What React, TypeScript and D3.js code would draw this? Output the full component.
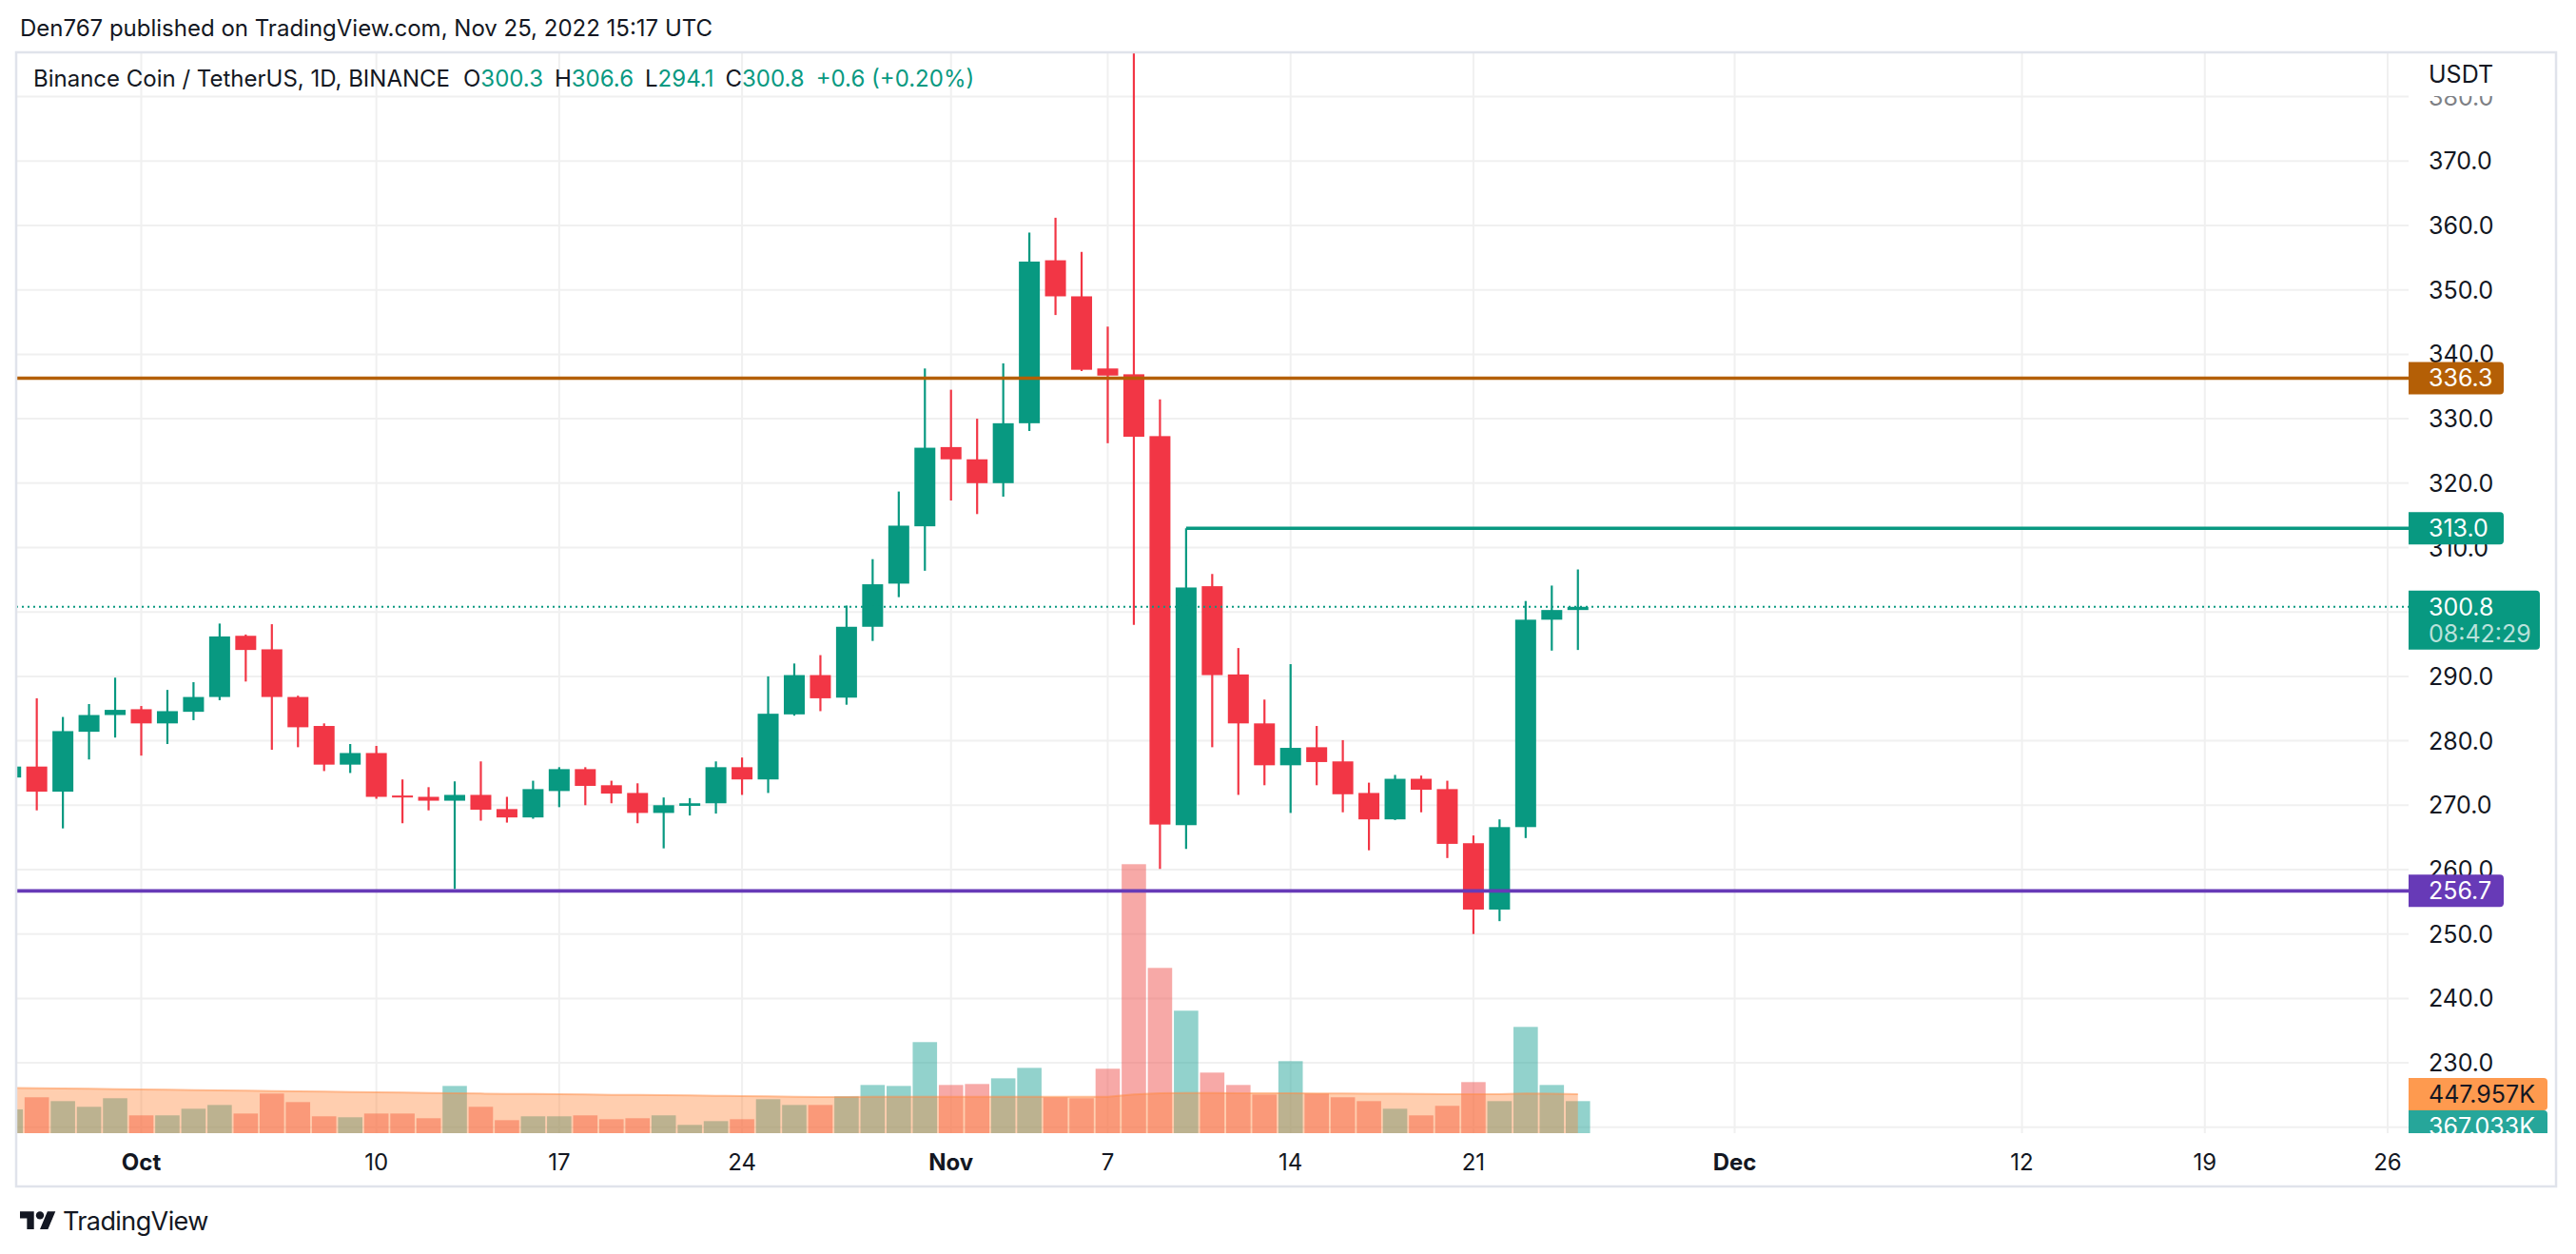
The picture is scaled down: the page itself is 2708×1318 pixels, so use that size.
import React, { useEffect } from 'react';
import * as d3 from 'd3';

// BNB/USDT daily candles, Sep 26 - Nov 25 2022
const dates = [
  '2022-09-26', '2022-09-27', '2022-09-28', '2022-09-29', '2022-09-30',
  '2022-10-01', '2022-10-02', '2022-10-03', '2022-10-04', '2022-10-05', '2022-10-06', '2022-10-07',
  '2022-10-08', '2022-10-09', '2022-10-10', '2022-10-11', '2022-10-12', '2022-10-13', '2022-10-14',
  '2022-10-15', '2022-10-16', '2022-10-17', '2022-10-18', '2022-10-19', '2022-10-20', '2022-10-21',
  '2022-10-22', '2022-10-23', '2022-10-24', '2022-10-25', '2022-10-26', '2022-10-27', '2022-10-28',
  '2022-10-29', '2022-10-30', '2022-10-31',
  '2022-11-01', '2022-11-02', '2022-11-03', '2022-11-04', '2022-11-05', '2022-11-06', '2022-11-07',
  '2022-11-08', '2022-11-09', '2022-11-10', '2022-11-11', '2022-11-12', '2022-11-13', '2022-11-14',
  '2022-11-15', '2022-11-16', '2022-11-17', '2022-11-18', '2022-11-19', '2022-11-20', '2022-11-21',
  '2022-11-22', '2022-11-23', '2022-11-24', '2022-11-25',
];

const opens = [
  274.3, 276.0, 272.1, 281.4, 284.0,
  284.9, 282.7, 284.5, 286.8, 296.3, 294.2, 286.8, 282.3, 276.3, 278.1, 271.5, 271.3, 270.7, 271.6,
  269.4, 268.1, 272.2, 275.6, 273.1, 271.9, 268.8, 269.9, 270.3, 275.9, 274.0, 284.1, 290.2, 286.7,
  297.7, 304.4, 313.3,
  325.6, 323.7, 320.0, 329.3, 354.6, 349.0, 337.8, 336.9, 327.3, 266.9, 304.0, 290.3, 282.7, 276.2,
  279.0, 276.8, 271.9, 267.8, 274.1, 272.5, 264.1, 253.8, 266.6, 298.8, 300.3,
];

const highs = [
  277.5, 286.6, 283.7, 285.7, 289.8,
  285.4, 287.9, 289.1, 298.2, 296.5, 298.1, 287.0, 282.7, 279.5, 279.2, 274.0, 272.8, 273.7, 276.8,
  271.3, 273.8, 275.9, 275.9, 273.8, 273.4, 271.2, 271.1, 276.8, 277.4, 290.0, 292.0, 293.3, 301.0,
  308.2, 318.7, 337.8,
  334.5, 330.0, 338.6, 358.9, 361.2, 355.9, 344.3, 398.0, 333.0, 313.0, 305.9, 294.4, 286.4, 291.9,
  282.3, 280.1, 273.5, 274.7, 274.6, 273.8, 265.3, 267.8, 301.7, 304.1, 306.6,
];

const lows = [
  271.5, 269.2, 266.4, 277.1, 280.5,
  277.7, 279.5, 283.2, 286.3, 289.2, 278.6, 279.0, 275.3, 275.0, 271.0, 267.2, 269.2, 257.0, 267.6,
  267.3, 267.9, 269.7, 270.0, 270.3, 267.2, 263.3, 268.4, 268.7, 271.6, 271.9, 283.9, 284.6, 285.6,
  295.5, 302.3, 306.4,
  317.3, 315.2, 317.9, 328.1, 346.1, 337.4, 326.2, 298.0, 260.1, 263.2, 279.0, 271.6, 273.1, 268.8,
  273.1, 268.9, 263.0, 267.7, 268.9, 261.8, 250.0, 252.0, 264.9, 294.0, 294.1,
];

const closes = [
  276.0, 272.1, 281.5, 284.0, 284.8,
  282.7, 284.6, 286.8, 296.2, 294.1, 286.8, 282.1, 276.3, 278.1, 271.3, 271.2, 270.7, 271.6, 269.3,
  268.1, 272.5, 275.6, 273.0, 271.8, 268.8, 270.0, 270.3, 275.9, 274.0, 284.2, 290.2, 286.6, 297.7,
  304.3, 313.4, 325.5,
  323.7, 320.0, 329.3, 354.4, 349.0, 337.6, 336.7, 327.2, 267.0, 303.8, 290.2, 282.7, 276.2, 278.9,
  276.7, 271.7, 267.8, 274.1, 272.4, 264.0, 253.8, 266.6, 298.8, 300.3, 300.8,
];

// volume in thousands of BNB
const volumes = [
  272, 411, 367, 302, 400,
  204, 204, 280, 323, 225, 454, 356, 193, 182, 225, 225, 171, 541, 302,
  149, 193, 193, 204, 160, 171, 204, 95, 138, 160, 389, 323, 323, 421,
  552, 541, 1043,
  552, 563, 628, 748, 411, 400, 738, 3081, 1893, 1403, 694, 552, 443, 825,
  454, 411, 367, 280, 204, 313, 585, 367, 1217, 552, 367.033,
];

const volumeMA = [
  520, 515, 512, 509, 505,
  501, 498, 494, 491, 487, 483, 480, 476, 472, 469, 465, 461, 458, 454,
  450, 450, 447, 443, 440, 440, 436, 432, 429, 425, 421, 418, 414, 414,
  416, 416, 418,
  418, 418, 418, 417, 417, 416, 416, 443, 457, 461, 460, 459, 458, 457,
  456, 455, 453, 451, 449, 447, 446, 447, 455, 453, 447.957,
];

const priceTicks = [220, 230, 240, 250, 260, 270, 280, 290, 300, 310, 320, 330, 340, 350, 360, 370, 380];
const timeTickDates = ['2022-10-01', '2022-10-10', '2022-10-17', '2022-10-24', '2022-11-01', '2022-11-07',
  '2022-11-14', '2022-11-21', '2022-12-01', '2022-12-12', '2022-12-19', '2022-12-26'];
const timeTickLabels = ['Oct', '10', '17', '24', 'Nov', '7', '14', '21', 'Dec', '12', '19', '26'];

const levelValues = [336.3, 313.0, 256.7];
const levelStarts = [null, '2022-11-10', null];

const UP = '#089981';
const DOWN = '#f23645';
const TEXT = '#131722';
const FONT = "Inter, 'Noto Sans', sans-serif";
const levelColors = ['#b45f06', '#089981', '#673ab7'];

function tagPath(x0: number, y0: number, w: number, h: number, r: number) {
  return `M${x0},${y0}H${x0 + w - r}Q${x0 + w},${y0} ${x0 + w},${y0 + r}V${y0 + h - r}Q${x0 + w},${y0 + h} ${x0 + w - r},${y0 + h}H${x0}Z`;
}

export default function App() {
  useEffect(() => {
    document.body.style.margin = '0';
  }, []);

  const W = 2708;
  const H = 1318;
  const left = 17, top = 55, right = 2532, bottom = 1191, frameRight = 2687, frameBottom = 1247;
  const axisX = 2553;

  const parse = d3.utcParse('%Y-%m-%d');
  const days = dates.map(d => parse(d) as Date);
  const x = d3.scaleUtc()
    .domain([parse('2022-10-01') as Date, parse('2022-12-26') as Date])
    .range([148.5, 2510]);
  const y = d3.scaleLinear().domain([230, 370]).range([1117.1, 169.3]);
  const yVol = d3.scaleLinear().domain([0, d3.max(volumes) as number]).range([bottom, bottom - 282.7]);

  const bodyW = 22;
  const volW = 25.6;

  const maArea = d3.area<number>()
    .x((_, i) => x(days[i]))
    .y0(bottom)
    .y1(v => yVol(v));
  const maLine = d3.line<number>()
    .x((_, i) => x(days[i]))
    .y(v => yVol(v));

  const last = closes.length - 1;
  const lastClose = closes[last];
  const lastUp = closes[last] >= opens[last];

  const tagX = right;

  return (
    <svg width={W} height={H} style={{ position: 'absolute', left: 0, top: 0, display: 'block', background: '#fff' }}
      fontFamily={FONT}>
      <defs>
        <clipPath id="plotClip">
          <rect x={left} y={top} width={right - left} height={bottom - top} />
        </clipPath>
        <clipPath id="axisClip">
          <rect x={right} y={top} width={frameRight - right} height={bottom - top} />
        </clipPath>
      </defs>
      <rect x={0} y={0} width={W} height={H} fill="#fff" />

      <text x={21} y={38} fontSize={24} fill={TEXT}>
        Den767 published on TradingView.com, Nov 25, 2022 15:17 UTC
      </text>

      {/* grid */}
      <g stroke="#f0f0f0" strokeWidth={2}>
        {priceTicks.map(t => (
          <line key={'h' + t} x1={left} x2={right} y1={y(t)} y2={y(t)} />
        ))}
        {timeTickDates.map(d => (
          <line key={'v' + d} x1={x(parse(d) as Date)} x2={x(parse(d) as Date)} y1={top} y2={bottom} />
        ))}
      </g>

      <g clipPath="url(#plotClip)">
        {/* volume */}
        {volumes.map((v, i) => (
          <rect key={'vol' + i}
            x={x(days[i]) - volW / 2} y={yVol(v)} width={volW} height={bottom - yVol(v)}
            fill={closes[i] >= opens[i] ? 'rgba(38,166,154,0.5)' : 'rgba(239,83,80,0.5)'} />
        ))}
        <path d={maArea(volumeMA) as string} fill="rgb(255,130,50)" fillOpacity={0.39} />
        <path d={maLine(volumeMA) as string} fill="none" stroke="rgb(255,140,70)" strokeOpacity={0.5} strokeWidth={2} />

        {/* candles */}
        {dates.map((_, i) => {
          const cx = x(days[i]);
          const up = closes[i] >= opens[i];
          const col = up ? UP : DOWN;
          const yTop = y(Math.max(opens[i], closes[i]));
          const yBot = y(Math.min(opens[i], closes[i]));
          return (
            <g key={'c' + i}>
              <line x1={cx} x2={cx} y1={y(highs[i])} y2={y(lows[i])} stroke={col} strokeWidth={2.2} />
              <rect x={cx - bodyW / 2} y={yTop} width={bodyW} height={Math.max(2, yBot - yTop)} fill={col} />
            </g>
          );
        })}

        {/* horizontal levels */}
        {levelValues.map((v, i) => {
          const s = levelStarts[i];
          const x1 = s ? x(parse(s) as Date) : left;
          return <line key={'lv' + i} x1={x1} x2={right} y1={y(v)} y2={y(v)} stroke={levelColors[i]} strokeWidth={3.6} />;
        })}

        {/* last price */}
        <line x1={left} x2={right} y1={y(lastClose)} y2={y(lastClose)} stroke={UP} strokeWidth={2} strokeDasharray="2 4" />
      </g>

      {/* legend */}
      <text x={35} y={91} fontSize={24} fill={TEXT}>
        <tspan>Binance Coin / TetherUS, 1D, BINANCE</tspan>
        <tspan dx={14}>O</tspan><tspan fill={UP}>{opens[last].toFixed(1)}</tspan>
        <tspan dx={12}>H</tspan><tspan fill={UP}>{highs[last].toFixed(1)}</tspan>
        <tspan dx={12}>L</tspan><tspan fill={UP}>{lows[last].toFixed(1)}</tspan>
        <tspan dx={12}>C</tspan><tspan fill={UP}>{closes[last].toFixed(1)}</tspan>
        <tspan dx={12} fill={UP}>+0.6 (+0.20%)</tspan>
      </text>

      {/* price axis */}
      <g clipPath="url(#axisClip)" fontSize={25} fill={TEXT}>
        {priceTicks.filter(t => t >= 230).map(t => (
          <text key={'pt' + t} x={axisX} y={y(t)} dy="0.36em" opacity={t === 380 ? 0.55 : 1}>{t.toFixed(1)}</text>
        ))}
        <rect x={right} y={top} width={frameRight - right - 1} height={46} fill="#fff" />
        <text x={axisX} y={78} dy="0.36em">USDT</text>

        {levelValues.map((v, i) => (
          <g key={'tag' + i}>
            <path d={tagPath(tagX, y(v) - 17, 100, 34, 4)} fill={levelColors[i]} />
            <text x={axisX} y={y(v)} dy="0.36em" fill="#fff">{v.toFixed(1)}</text>
          </g>
        ))}

        <path d={tagPath(tagX, y(lastClose) - 17, 138, 62, 4)} fill={lastUp ? UP : DOWN} />
        <text x={axisX} y={y(lastClose)} dy="0.36em" fill="#fff">{lastClose.toFixed(1)}</text>
        <text x={axisX} y={y(lastClose) + 28} dy="0.36em" fill="rgba(255,255,255,0.72)">08:42:29</text>

        <path d={tagPath(tagX, yVol(volumeMA[last]) - 17, 146, 34, 4)} fill="#fe9a4f" />
        <text x={axisX} y={yVol(volumeMA[last])} dy="0.36em" fill={TEXT}>{volumeMA[last].toFixed(3)}K</text>
        <path d={tagPath(tagX, yVol(volumeMA[last]) + 17, 146, 34, 4)} fill="#26a69a" />
        <text x={axisX} y={yVol(volumeMA[last]) + 34} dy="0.36em" fill="#fff">{volumes[last].toFixed(3)}K</text>
      </g>

      {/* time axis */}
      <g fontSize={24} fill={TEXT} textAnchor="middle">
        {timeTickDates.map((d, i) => (
          <text key={'tt' + d} x={x(parse(d) as Date)} y={1221} dy="0.36em"
            fontWeight={/[A-Za-z]/.test(timeTickLabels[i]) ? 700 : 400}>{timeTickLabels[i]}</text>
        ))}
      </g>

      {/* frame */}
      <rect x={left} y={top} width={frameRight - left} height={frameBottom - top} fill="none" stroke="#e0e3eb" strokeWidth={2.5} />

      {/* logo */}
      <g transform="translate(21,1269) scale(1.05)" fill={TEXT}>
        <path d="M14 22H7V11H0V4h14v18zM28 22h-8l7.5-18h8L28 22z" />
        <circle cx={20} cy={8} r={4} />
      </g>
      <text x={66} y={1293} fontSize={27} fill={TEXT} letterSpacing={-0.6}>TradingView</text>
    </svg>
  );
}
